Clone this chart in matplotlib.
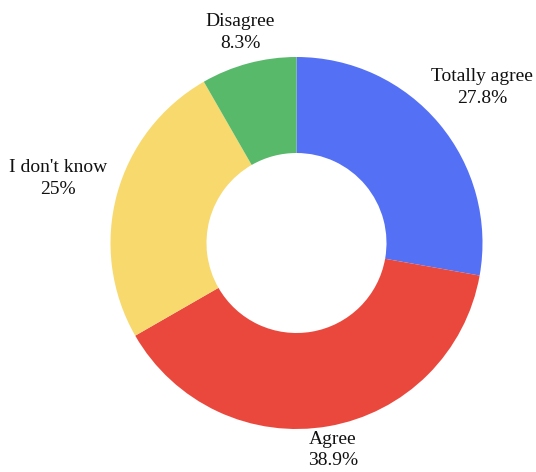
import numpy as np
import matplotlib.pyplot as plt

plt.rcParams['font.family'] = ['Liberation Serif', 'DejaVu Serif']

# data
labels = ['Totally agree', 'Agree', "I don't know", 'Disagree']
values = [27.8, 38.9, 25.0, 8.3]
pct_text = ['27.8%', '38.9%', '25%', '8.3%']
colors = ['#5470f5', '#eb483d', '#f8d96e', '#58b96b']

# label distance from centre (in units of outer radius), per slice
label_dist = [1.30, 1.13, 1.33, 1.17]

W, H = 536, 472
fig = plt.figure(figsize=(W / 100, H / 100), dpi=100)
ax = fig.add_axes([0, 0, 1, 1])

cx, cy = 296.5, H - 243
r_out, r_in = 186, 90

wedges, _ = ax.pie(values, colors=colors, startangle=90, counterclock=False,
                   radius=r_out, center=(cx, cy), frame=True,
                   wedgeprops=dict(width=r_out - r_in, edgecolor='none'))
ax.set_xlim(0, W)
ax.set_ylim(0, H)
ax.set_aspect('equal')
ax.axis('off')

for w, lab, pct, d in zip(wedges, labels, pct_text, label_dist):
    mid = np.radians((w.theta1 + w.theta2) / 2)
    x = cx + d * r_out * np.cos(mid)
    y = cy + d * r_out * np.sin(mid)
    ax.text(x, y, lab + '\n' + pct, ha='center', va='center',
            multialignment='center', fontsize=14, color='#111111',
            linespacing=1.35)

fig.savefig('out.png', dpi=100)
